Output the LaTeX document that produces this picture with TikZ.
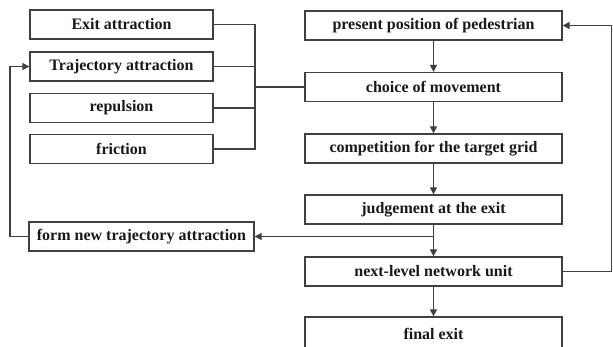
\documentclass[tikz,border=0pt]{standalone}
\usepackage{fontspec}
\setmainfont{Liberation Serif}
\usetikzlibrary{arrows.meta}
\begin{document}
\begin{tikzpicture}[x=1pt,y=-1pt,
  box/.style={draw=black!75,line width=1.3pt,minimum height=29pt,inner sep=0pt,font=\bfseries\fontsize{16}{18}\selectfont,text=black!90},
  lbox/.style={box,minimum width=183pt},
  rbox/.style={box,minimum width=257pt},
  conn/.style={draw=black!75,line width=1.3pt},
  arr/.style={conn,-{Triangle[length=7pt,width=7pt]}}]
\clip (0,0) rectangle (613,347);
\useasboundingbox (0,0) rectangle (613,347);
\fill[white] (0,0) rectangle (613,347);
% left boxes
\node[lbox] (ea) at (121.5,24.5) {Exit attraction};
\node[lbox] (ta) at (121.5,66.5) {Trajectory attraction};
\node[lbox] (rp) at (121.5,108) {repulsion};
\node[lbox] (fr) at (121.5,149) {friction};
\node[box,minimum width=225pt] (fn) at (141.5,236.5) {form new trajectory attraction};
% right column
\node[rbox] (pp) at (433.5,25.5) {present position of pedestrian};
\node[rbox] (cm) at (433.5,87) {choice of movement};
\node[rbox] (ct) at (433.5,148.5) {competition for the target grid};
\node[rbox] (je) at (433.5,209.5) {judgement at the exit};
\node[rbox] (nl) at (433.5,271.5) {next-level network unit};
\node[rbox,minimum height=34pt] (fe) at (433.5,334) {final exit};
% merge
\coordinate (mx) at (255,87);
\draw[conn] (ea.east) -- (ea.east -| mx) -- (fr.east -| mx) -- (fr.east);
\draw[conn] (ta.east) -- (ta.east -| mx);
\draw[conn] (rp.east) -- (rp.east -| mx);
\draw[conn] (mx) -- (cm.west);
% main column
\draw[arr] (pp) -- (cm);
\draw[arr] (cm) -- (ct);
\draw[arr] (ct) -- (je);
\draw[arr] (je) -- (nl);
\draw[arr] (nl) -- (fe);
% branch
\coordinate (br) at (433.5,236.5);
\draw[arr] (br) -- (fn.east);
\coordinate (fl) at (10,236.5);
\draw[arr] (fn.west) -- (fl) |- (ta.west);
% feedback
\coordinate (fb) at (611.5,271.5);
\draw[arr] (nl.east) -- (fb) |- (pp.east);
\end{tikzpicture}
\end{document}
